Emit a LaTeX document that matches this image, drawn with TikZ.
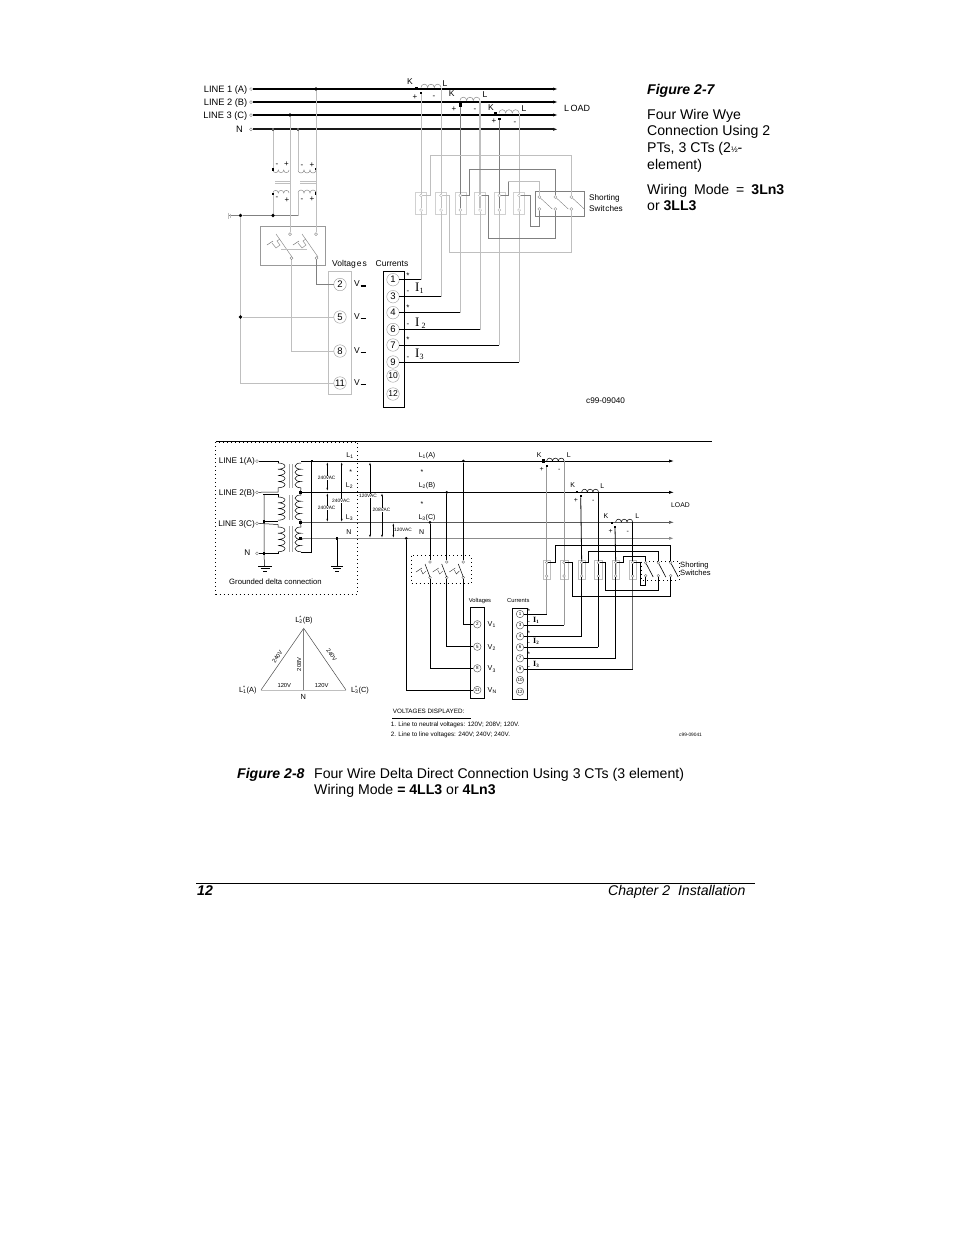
\documentclass[tikz,border=0pt]{standalone}
\usepackage{fontspec}
\setmainfont{Liberation Sans}
\newfontfamily\romanfont{Liberation Serif}
\usetikzlibrary{arrows.meta}
\def\coil[#1](#2)(#3:#4:#5:#6){\draw[#1] (#2) \foreach \i in {1,...,#3} { arc (#4:#5:#6) };}
\def\fs#1{\fontsize{#1}{#1}\selectfont}
\tikzset{
	txt/.style={inner sep=0pt,text depth=0pt,anchor=west,execute at begin node={\rule{0pt}{0.72em}}},
	txtc/.style={txt,anchor=center},
	txtr/.style={txt,anchor=east},
	bus/.style={line width=1.3pt,black},
	neut/.style={line width=2pt,black!90},
	lw/.style={line width=0.5pt,black!25},
	mw/.style={line width=0.6pt,black!50},
	bw/.style={line width=0.8pt,black},
	tw/.style={line width=0.5pt,black},
	tpin/.style={circle,draw=black!55,fill=white,line width=0.35pt,inner sep=0pt,minimum size=3pt},
	jdot/.style={circle,fill=black,inner sep=0pt,minimum size=3.6pt},
	sdot/.style={fill=black,inner sep=0pt,minimum size=2.4pt},
	numt/.style={circle,draw=black!40,line width=0.4pt,inner sep=0pt,minimum size=12.5pt,font=\fs{9.5}},
	nums/.style={circle,draw=black!70,line width=0.4pt,inner sep=0pt,minimum size=7.5pt,font=\fs{4.5}},
	ltip/.style={-{Latex[length=5pt,width=3.2pt]}},
	vtip/.style={{Latex[length=3.2pt,width=1.8pt]}-{Latex[length=3.2pt,width=1.8pt]}},
	dotbox/.style={line width=0.8pt,black,dash pattern=on 0.8pt off 3.2pt},
}
\begin{document}
\begin{tikzpicture}[x=1pt,y=-1pt]
	\useasboundingbox (0,0) rectangle (954,1235);
	%%%%% FIGURE 2-7 %%%%%

	% lines
	\foreach \n/\y/\t in {la/89/LINE 1 (A),lb/102/LINE 2 (B),lc/115/LINE 3 (C)}{
		\node[tpin] (\n) at (251,\y) {};
		\node[txtr,font=\fs{9.3}] (\n txt) at (247.5,\y) {\t};
		\coordinate (\n end) at (558,\y);
		\draw[bus,ltip] (\n) -- (\n end);
	}
	\node[tpin] (ln) at (251,129.3) {};
	\node[txtr,font=\fs{9.3}] (ln txt) at (243,129) {N};
	\coordinate (ln end) at (558,129.3);
	\draw[neut,ltip] (ln) -- (ln end);
	\node[txt,font=\fs{9}] (load) at (564,108) {L\,OAD};

	% voltage transformers
	\node[jdot] (ta) at (316,89) {};
	\node[jdot] (tc) at (290,115) {};
	\node[sdot,fill=black!60] (tn1) at (273,129.3) {};
	\node[sdot,fill=black!60] (tn2) at (298,129.3) {};
	\coil[lw,black!45](273,170)(3:180:0:2.67);
	\coil[lw,black!45](298,170)(3:180:0:3);
	\coil[lw,black!45](273,193)(3:180:360:2.67);
	\coil[lw,black!45](298,193)(3:180:360:3);
	\draw[lw] (275,181) -- (290,181) (275,183.5) -- (290,183.5);
	\draw[lw] (300,181) -- (316,181) (300,183.5) -- (316,183.5);
	\foreach \n/\x/\y in {p1/273/169.5,p2/316/169,p3/273/194,p4/316/193.5}
		\node[sdot] (\n) at (\x,\y) {};
	\foreach \n/\x/\y/\t in {m1/277/164/-,m2/286.5/164/+,m3/302/164.5/-,m4/312/165/+,m5/277/197/-,m6/287/200/+,m7/302/199/-,m8/312/199/+}
		\node[txtc,font=\fs{8}] (\n) at (\x,\y) {\t};
	\draw[lw] (tn1) -- (p1);
	\draw[lw] (tn2) -- (298,170);
	\draw[lw] (p3) -- (273,215.5);
	\draw[lw] (298,193) -- (298,215.5);
	\node[jdot] (g1) at (240.5,215.5) {};
	\node[jdot] (g2) at (273,215.5) {};
	\coordinate (g0) at (229,215.5);
	\draw[mw] (g0) -- (g1) -- (g2) -- (298,215.5);
	\draw[lw] (228,212.5) -- (228,218.5) (230,213.5) -- (230,217.5);

	% voltage switches
	\draw[mw,black!40] (260.7,226) rectangle (325.7,265);
	\node[tpin] (vs1) at (290,234) {};
	\node[tpin] (vs2) at (316,234) {};
	\node[tpin] (vb1) at (291.5,258) {};
	\node[tpin] (vb2) at (316.5,258) {};
	\foreach \x in {276,302}{
		\draw[lw,black!45] (\x,234) -- (\x+16,257);
		\draw[tw,black!55] (\x-9,245) -- (\x-3,241);
		\draw[lw,black!45] (\x-4,243) -- (\x,248) -- (\x+4,245) -- (\x+1,241) -- (\x+4,239);
	}
	\draw[lw] (281,249) -- (307,249);
	\draw[lw] (tc) -- (vs1);
	\draw[lw] (ta) -- (vs2);

	% voltage terminals
	\draw[lw,line width=0.7pt] (328,271) rectangle (351,394);
	\foreach \n/\y/\w in {2/284.5/1.3,5/317/0.6,8/351/0.6,11/383/1.3}{
		\node[numt] (vt\n) at (340,\y) {\n};
		\node[txt,font=\fs{8.5}] (vl\n) at (354,\y-1) {V\kern0.8pt\rule{5pt}{\w pt}};
	}
	\draw[mw] (vb2) |- (vt2);
	\draw[lw] (g1) |- (vt11);
	\draw[lw] (vb1) |- (vt8);
	\node[jdot] (g3) at (240.5,317) {};
	\draw[lw] (g3) -- (vt5);
	\node[txt,font=\fs{8.5}] (vtitle) at (332,263) {Voltag\kern1pt e\kern1pt s};
	\node[txt,font=\fs{8.5}] (ctitle) at (375.5,263) {Currents};

	% current terminals
	\draw[line width=0.8pt] (383,271) rectangle (404,407);
	\foreach \n/\y in {1/279.7,3/296.7,4/312.7,6/329.5,7/345,9/362}
		\node[numt] (ct\n) at (393,\y) {\n};
	\foreach \n/\y in {10/376,12/394}
		\node[numt,font=\fs{8.5}] (ct\n) at (393,\y) {\n};
	\foreach \n/\y/\t in {s1/275.7/*,s2/291/-,s3/307.7/*,s4/324/-,s5/339.7/*,s6/356.7/-}
		\node[txtc,font=\fs{8}] (\n) at (408,\y) {\t};
	\node[txt,font=\romanfont\fs{13}] (i1) at (415,287) {I\textsubscript{\fs{8}1}};
	\node[txt,font=\romanfont\fs{13}] (i2) at (415,322) {I\,\textsubscript{\fs{8}2}};
	\node[txt,font=\romanfont\fs{13}] (i3) at (415,353) {I\textsubscript{\fs{8}3}};

	% current transformers
	\coil[lw,black!45](421,87.5)(3:180:360:3.33);
	\coil[lw,black!45](460,100.5)(3:180:360:3.33);
	\coil[lw,black!45](499,113)(3:180:360:3.33);
	\foreach \n/\x/\y/\t in {k1/410/81/K,l1/445/83/L,k2/451.7/93/K,l2/485/94.7/L,k3/491/107/K,l3/524/108/L}
		\node[txtc,font=\fs{8.5}] (\n) at (\x,\y) {\t};
	\foreach \n/\x/\y/\t in {a1/415/96.7/+,a2/434/96/-,a3/454/109/+,a4/475/109/-,a5/494/120.7/+,a6/515/122/-}
		\node[txtc,font=\fs{8}] (\n) at (\x,\y) {\t};
	\node[sdot] (d1) at (421,93) {};
	\node[sdot,minimum size=3.4pt] (d2) at (460.3,105) {};
	\node[sdot] (d3) at (499.3,118.7) {};
	\node[sdot] (d4) at (416.5,88) {};
	\node[sdot,minimum size=1.6pt] (d5) at (456,101.5) {};
	\node[sdot] (d6) at (495.5,113.5) {};

	% shorting blocks
	\foreach \n/\x in {1/421,2/441,3/460.3,4/480,5/499.3,6/519}{
		\draw[lw,black!18,line width=0.35pt] (\x-5.5,191.7) rectangle (\x+5.5,214);
		\node[tpin,draw=black!35] (bt\n) at (\x,195.5) {};
		\node[tpin,draw=black!35] (bb\n) at (\x,210) {};
	}
	\draw[lw] (d1) -- (bt1) -- (bb1);
	\draw[lw] (441,87.5) -- (bt2) -- (bb2);
	\draw[mw,line width=0.8pt] (d2) -- (bt3) -- (bb3);
	\draw[lw,line width=1.1pt] (480,100.5) -- (bt4) -- (bb4);
	\draw[mw] (d3) -- (bt5) -- (bb5);
	\draw[lw] (519,113) -- (bt6) -- (bb6);
	\foreach \a/\b in {1/1,2/3,3/4,4/6,5/7,6/9}{
		\draw[lw] (bb\a) -- (bb\a |- ct\b);
		\draw[bw] (ct\b) -- (bb\a |- ct\b);
	}

	% shorting switches
	\draw[lw,black!50] (535,191) rectangle (584,216);
	\foreach \n/\x in {1/539.3,2/555.3,3/571.3}{
		\node[tpin,draw=black!45] (st\n) at (\x,197) {};
		\node[tpin,draw=black!45] (sb\n) at (\x,209) {};
		\draw[mw,line width=0.4pt] (st\n) -- (\x+13,209);
	}
	\draw[lw] (bt1) -- (430.7,195.5) -- (430.7,155.7) -- (571.3,155.7) -- (st3);
	\draw[lw] (sb3) -- (571.3,252) -- (449.3,252) -- (449.3,195.5) -- (bt2);
	\draw[mw] (bt3) -- (469,195.5) -- (469,169) -- (555.3,169) -- (st2);
	\draw[mw] (sb2) -- (555.3,238) -- (488.7,238) -- (488.7,195.5) -- (bt4);
	\draw[mw] (bt5) -- (508.3,195.5) -- (508.3,181.7);
	\draw[lw,line width=0.9pt] (508.3,181.7) -- (539.3,181.7) -- (st1);
	\draw[mw] (sb1) -- (539.3,226) -- (530,226) -- (530,195.5) -- (bt6);
	\node[txt,font=\fs{8.2}] (ss1) at (589,198) {Shorting};
	\node[txt,font=\fs{8.2}] (ss2) at (589,209) {Swit\kern0.8pt ches};
	\node[txt,font=\fs{8.2}] (code1) at (586,401) {c99-09040};

	%%%%% FIGURE 2-7 TEXT %%%%%
	\node[txt,font=\bfseries\itshape\fs{14.1}] (fig7) at (647,89) {Figure 2-7};
	\node[txt,font=\fs{14.1}] (t1) at (647,114) {Four Wire Wye};
	\node[txt,font=\fs{14.1}] (t2) at (647,130) {Connection Using 2};
	\node[txt,font=\fs{14.1}] (t3) at (647,147) {PTs, 3 CTs (2{\fs{8}½}-};
	\node[txt,font=\fs{14.1}] (t4) at (647,164) {element)};
	\node[txt,font=\fs{14.1}] (t5) at (647,189) {Wiring\hspace{3pt} Mode\hspace{3pt} =\hspace{3pt} \textbf{3Ln3}};
	\node[txt,font=\fs{14.1}] (t6) at (647,205) {or \textbf{3LL3}};

	%%%%% FIGURE 2-8 %%%%%
	\draw[line width=0.8pt] (216,441) -- (712,441);
	\draw[dotbox] (215.7,442) rectangle (357.7,594);

	% supply
	\foreach \n/\y/\t in {s1/461/LINE 1(A),s2/492.3/LINE 2(B),s3/523.3/LINE 3(C)}{
		\node[tpin] (su\n) at (257,\y) {};
		\node[txtr,font=\fs{8.2}] (su\n txt) at (255,\y) {\t};
	}
	\node[tpin] (sun) at (257,553.3) {};
	\node[txtr,font=\fs{8.2}] (sun txt) at (250.5,553) {N};
	\coil[tw](278,463)(4:-90:90:7 and 3.1);
	\coil[tw](278,497)(4:-90:90:7 and 2.9);
	\coil[tw](278,527)(4:-90:90:7 and 3.1);
	\coil[tw](301,463)(4:-90:-270:6 and 3.1);
	\coil[tw](301,495)(4:-90:-270:6 and 3.1);
	\coil[tw](301,527)(4:-90:-270:6 and 3.1);
	\foreach \a/\b in {464/488,495/520,526/552}
		\draw[lw,line width=1pt,black!35] (289,\a) -- (289,\b) (292,\a) -- (292,\b);
	\draw[tw] (sus1) -- (278,461) -- (278,463);
	\draw[tw] (sus2) -- (278,492) -- (278,488);
	\draw[tw] (263,494.3) -- (278,494.3) -- (278,497);
	\draw[tw] (264,521) -- (278,521);
	\draw[tw] (sus3) -- (278,524.5) -- (278,527);
	\draw[tw] (sun) -- (278,553.3) -- (278,552);
	\node[sdot] (pd1) at (264,521.5) {};
	\node[sdot] (pd2) at (264,553.3) {};
	\coordinate (gnd1) at (264.5,566);
	\draw[tw] (264,494.3) -- (pd1) -- (pd2) -- (gnd1);
	\draw[tw] (258,566) -- (272,566) (260.5,568.5) -- (269.5,568.5) (263,571) -- (267,571);

	% load lines
	\node[sdot] (n1) at (311.7,461) {};
	\node[sdot] (n2) at (300.5,492.3) {};
	\node[sdot] (n3) at (300.5,522.3) {};
	\node[sdot] (n4) at (300.5,538.3) {};
	\foreach \n/\y in {e1/461,e2/492.3,e3/522.3,e4/538.3}
		\coordinate (\n) at (674,\y);
	\draw[line width=0.8pt,ltip] (301,461) -- (e1);
	\draw[line width=0.8pt,ltip] (n2) -- (e2);
	\draw[line width=0.7pt,black!65,ltip] (n3) -- (e3);
	\draw[line width=0.9pt,black!45,ltip] (n4) -- (e4);
	\draw[tw] (301,488) -- (n2) (n2) -- (301,495) (301,520) -- (n3) -- (301,527);
	\draw[tw] (n1) -- (311.7,552.3) -- (301,552.3);
	\node[sdot] (n5) at (337,538.3) {};
	\coordinate (gnd2) at (337,566);
	\draw[tw] (n5) -- (gnd2);
	\draw[tw] (331,566) -- (343,566) (333,568.5) -- (341,568.5) (335,571) -- (339,571);

	% voltage arrows
	\draw[tw,vtip] (327.3,462) -- (327.3,491);
	\draw[tw,vtip] (327.3,493) -- (327.3,522);
	\draw[tw,vtip] (341.7,462) -- (341.7,522);
	\draw[tw,vtip] (370,462) -- (370,538);
	\draw[tw,vtip] (382,493) -- (382,538);
	\draw[tw,vtip] (393.3,523) -- (393.3,538);
	\foreach \n/\x/\y/\t in {v1/326.7/477.7/240VAC,v2/326.7/507.7/240VAC,v3/341/501/240VAC,v4/368/495.7/120VAC,v5/381.5/510/208VAC,v6/403/530/120VAC}
		\node[txtc,fill=white,inner sep=0.3pt,font=\fs{4.8}] (\n) at (\x,\y) {\t};
	\foreach \n/\x/\y/\t in {a/350/455/L\textsubscript{1},b/349.5/485/L\textsubscript{2},c/349.5/517/L\textsubscript{3},d/349/532/N,e/427/455/L\textsubscript{1}(A),f/427/485/L\textsubscript{2}(B),g/427/516.5/L\textsubscript{3}(C),h/421.7/532/N,i/350.7/472/*,j/422/472/*,k/422/504/*}
		\node[txtc,font=\fs{7}] (q\n) at (\x,\y) {\t};

	% current transformers
	\coil[tw](546.7,461)(3:180:360:2.9);
	\coil[tw](581.7,492)(3:180:360:2.8);
	\coil[tw](615.7,522)(3:180:360:2.83);
	\foreach \n/\x/\y/\t in {k1/539.3/455/K,l1/568.7/455/L,k2/572.7/485/K,l2/602.3/485.7/L,k3/606/516/K,l3/637.3/516/L}
		\node[txtc,font=\fs{7}] (c\n) at (\x,\y) {\t};
	\foreach \n/\x/\y/\t in {a1/541.7/469/+,a2/559.3/469/-,a3/576/500/+,a4/593.3/500/-,a5/610.7/530.7/+,a6/627.7/530.7/-}
		\node[txtc,font=\fs{7}] (c\n) at (\x,\y) {\t};
	\node[sdot,minimum size=3.2pt] (h1) at (543.3,461) {};
	\node[sdot,minimum size=1.8pt] (h2) at (577.3,491.7) {};
	\node[sdot,minimum size=1.8pt] (h3) at (611.7,522.7) {};
	\node[sdot] (r1) at (546.7,465.7) {};
	\node[sdot] (r2) at (580.7,496) {};
	\node[sdot] (r3) at (615,526.7) {};
	\node[txt,font=\fs{6.8}] (load2) at (671,505.3) {LOAD};

	% voltage switches
	\draw[dotbox,line width=0.7pt] (411,555.7) rectangle (471,583);
	\foreach \n/\x in {1/430,2/446.7,3/463.3}{
		\node[tpin,draw=black!60,minimum size=2.8pt] (ws\n) at (\x,562) {};
		\node[tpin,draw=black!60,minimum size=2.8pt] (wb\n) at (\x,577.5) {};
		\draw[tw] (\x-5,564) -- (\x,577);
		\draw[tw,line width=0.3pt] (\x-14,572) -- (\x-8,568) (\x-9,570) -- (\x-7,574) -- (\x-4,571);
	}
	\node[jdot,minimum size=3pt] (w1) at (430,522.3) {};
	\node[jdot,minimum size=3pt] (w2) at (446.7,492.3) {};
	\node[jdot,minimum size=3pt] (w3) at (463.3,461) {};
	\node[jdot,minimum size=3pt] (w4) at (406.3,538.3) {};
	\draw[tw,line width=0.7pt] (w1) -- (ws1);
	\draw[tw,line width=0.7pt] (w2) -- (ws2);
	\draw[tw,line width=0.7pt] (w3) -- (ws3);

	% voltage terminals
	\draw[bw] (470.7,607.3) rectangle (484.3,698.3);
	\foreach \n/\y/\s in {2/624.3/V\textsubscript{1},5/646.7/V\textsubscript{2},8/668.3/V\textsubscript{3},11/690/V\textsubscript{N}}{
		\node[nums] (wt\n) at (477.3,\y) {\n};
		\node[txt,font=\fs{7.2}] (wl\n) at (487.5,\y) {\s};
	}
	\draw[bw] (wb3) |- (wt2);
	\draw[bw] (wb2) |- (wt5);
	\draw[bw] (wb1) |- (wt8);
	\draw[bw] (w4) |- (wt11);
	\node[txtc,font=\fs{5.8}] (vtitle2) at (480,600.7) {Voltages};
	\node[txtc,font=\fs{5.8}] (ctitle2) at (518.3,600.7) {Currents};

	% current terminals
	\draw[bw] (512.3,608.3) rectangle (527.3,699.3);
	\foreach \n/\y in {1/614,3/625.3,4/636.3,6/647.3,7/658.3,9/669.3,10/680,12/691.7}
		\node[nums] (wc\n) at (520,\y) {\n};
	\foreach \n/\y/\t in {e1/610.7/*,e2/620.7/-,e3/632.7/*,e4/641.7/-,e5/654.3/*,e6/666/-}
		\node[txtc,font=\fs{6.5}] (\n) at (529,\y) {\t};
	\node[txt,font=\romanfont\bfseries\fs{8}] (u1) at (533,619.3) {I\textsubscript{\fs{5}1}};
	\node[txt,font=\romanfont\bfseries\fs{8}] (u2) at (533,641) {I\textsubscript{\fs{5}2}};
	\node[txt,font=\romanfont\bfseries\fs{8}] (u3) at (533,663.3) {I\textsubscript{\fs{5}3}};

	% shorting blocks
	\foreach \n/\x in {1/546.7,2/564,3/581.7,4/598.3,5/615.7,6/632.7}{
		\draw[lw,line width=0.5pt] (\x-3.8,560) rectangle (\x+3.8,579);
		\node[tpin,draw=black!50,minimum size=2.6pt] (xt\n) at (\x,562.5) {};
		\node[tpin,draw=black!50,minimum size=2.6pt] (xb\n) at (\x,576) {};
	}
	\draw[lw,line width=1.3pt,black!40] (r1) -- (xt1) -- (xb1);
	\draw[lw,line width=0.9pt,black!40] (564,461) -- (xt2) -- (xb2);
	\draw[bw] (r2) -- (xt3) -- (xb3);
	\draw[bw] (598.3,492) -- (xt4) -- (xb4);
	\draw[bw] (r3) -- (xt5) -- (xb5);
	\draw[bw] (632.7,522) -- (xt6) -- (xb6);
	\foreach \a/\b/\c in {1/1/black!40,2/3/black!40,3/4/black,4/6/black,5/7/black,6/9/black!60}{
		\draw[bw,\c,line width=1pt] (xb\a) -- (xb\a |- wc\b);
		\draw[bw] (wc\b) -- (xb\a |- wc\b);
	}

	% shorting switches
	\draw[dotbox,line width=0.7pt] (641.7,561.7) rectangle (679.3,580);
	\foreach \n/\x in {1/645.7,2/658.3,3/670.7}{
		\node[tpin,draw=black!60,minimum size=2.6pt] (zt\n) at (\x,562.7) {};
		\node[tpin,draw=black!60,minimum size=2.6pt] (zb\n) at (\x,575.7) {};
		\draw[tw,line width=0.6pt] (zt\n) -- (\x+7.5,577);
	}
	\draw[bw] (xt1) -- (555,562.5) -- (555,545.7) -- (670.7,545.7) -- (zt3);
	\draw[bw] (zb3) -- (670.7,596.7) -- (572.3,596.7) -- (572.3,562.5) -- (xt2);
	\draw[bw] (xt3) -- (588.3,562.5) -- (588.3,551.3) -- (658.3,551.3) -- (zt2);
	\draw[bw] (zb2) -- (658.3,590) -- (605.7,590) -- (605.7,562.5) -- (xt4);
	\draw[bw] (xt5) -- (623.3,562.5) -- (623.3,556.7) -- (645.7,556.7) -- (zt1);
	\draw[bw] (zb1) -- (645.7,585.7) -- (640,585.7) -- (640,562.5) -- (xt6);
	\node[txt,font=\fs{7.6}] (zs1) at (680,565) {Shorting};
	\node[txt,font=\fs{7.6}] (zs2) at (680,573) {Switches};

	% notes
	\node[txt,font=\fs{7.7}] (deltatxt) at (229,581.7) {Grounded delta connection};
	\node[txt,font=\fs{6.3}] (note0) at (392.7,711.7) {VOLTAGES DISPLAYED:};
	\draw[tw,line width=0.6pt] (392,718.3) -- (470.7,718.3);
	\node[txt,font=\fs{6.3}] (note1) at (390.7,724.3) {1. Line to neutral voltages: 120V; 208V; 120V.};
	\node[txt,font=\fs{6.3}] (note2) at (390.7,734.3) {2. Line to line voltages: 240V; 240V; 240V.};
	\node[txt,font=\fs{4.8}] (code2) at (679,735) {c99-09041};

	% triangle
	\coordinate (tb) at (303.7,628.3);
	\coordinate (ta2) at (261,690);
	\coordinate (tc2) at (346,690);
	\coordinate (tnn) at (303.7,690);
	\draw[line width=0.5pt,black!70] (ta2) -- (tb) -- (tc2);
	\draw[line width=0.9pt,black!25] (ta2) -- (tc2);
	\draw[line width=0.5pt,black!50] (tb) -- (tnn);
	\node[txtc,font=\fs{7.4}] (tlb) at (304,619) {L\rlap{\textsuperscript{*}}\textsubscript{2}(B)};
	\node[txtc,font=\fs{7.4}] (tla) at (247.8,689) {L\rlap{\textsuperscript{*}}\textsubscript{1}(A)};
	\node[txtc,font=\fs{7.4}] (tlc) at (360,689) {L\rlap{\textsuperscript{*}}\textsubscript{3}(C)};
	\node[txtc,font=\fs{7.4}] (tln) at (303.3,696.7) {N};
	\node[txtc,font=\fs{5.8}] (b1) at (284.3,685) {120V};
	\node[txtc,font=\fs{5.8}] (b2) at (321.7,685) {120V};
	\node[txtc,font=\fs{5.8},rotate=55] (b3) at (277.3,656.7) {240V};
	\node[txtc,font=\fs{5.8},rotate=-55] (b4) at (331.7,655) {240V};
	\node[txtc,font=\fs{5.8},rotate=90] (b5) at (299,664.3) {208V};

	%%%%% CAPTION AND FOOTER %%%%%
	\node[txt,font=\bfseries\itshape\fs{14.1}] (fig8) at (237,773) {Figure 2-8};
	\node[txt,font=\fs{14.1}] (cap1) at (314,773) {Four Wire Delta Direct Connection Using 3 CTs (3 element)};
	\node[txt,font=\fs{14.1}] (cap2) at (314,789) {Wiring Mode \textbf{= 4LL3} or \textbf{4Ln3}};
	\draw[line width=0.8pt] (196,883) -- (755,883);
	\node[txt,font=\bfseries\itshape\fs{14.1}] (page) at (197,890) {12};
	\node[txt,font=\itshape\fs{14.1}] (chap) at (608,890) {Chapter 2\hspace{4pt} Installation};
	%%%%% END %%%%%
\end{tikzpicture}
\end{document}
